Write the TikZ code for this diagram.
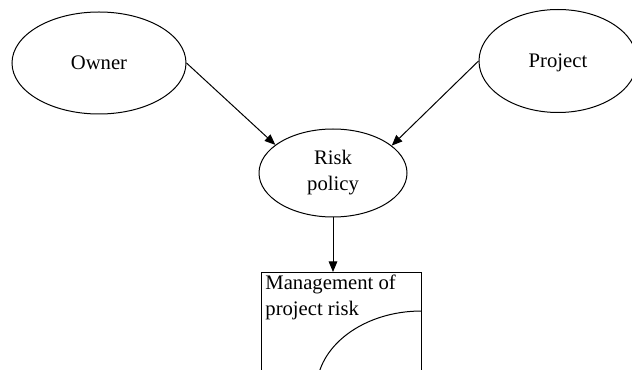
\documentclass[tikz,border=0pt]{standalone}
\usepackage{fontspec}
\setmainfont{Liberation Serif}
\usetikzlibrary{shapes.geometric,arrows.meta}

\tikzset{
    oval/.style={draw, ellipse, line width=0.75pt, inner sep=0pt},
    conn/.style={->, line width=0.75pt}
}

\begin{document}
\begin{tikzpicture}[x=0.75pt, y=-0.75pt, >={Triangle[length=8pt,width=6.5pt]},
    font=\fontsize{15.5}{19.5}\selectfont]
    \path[use as bounding box, clip] (0,0) rectangle (632,370);

    % Ellipses
    \node[oval, minimum width=130.5pt, minimum height=76.5pt, text height=10.5pt, text depth=0pt] (owner) at (99,63) {Owner};
    \node[oval, minimum width=118.5pt, minimum height=77.25pt, text height=10.5pt, text depth=0pt] (project) at (558,61) {Project};
    \node[oval, minimum width=111pt, minimum height=66pt, align=center] (risk) at (333,173) {Risk\\policy};

    % Box, cut at the bottom
    \node[draw, line width=0.75pt, minimum width=120pt, minimum height=112pt, anchor=north,
        label={[anchor=north west, align=left, inner xsep=3.5pt, inner ysep=2pt]north west:Management of\\project risk}]
        (mgmt) at (341,272) {};
    \draw[line width=0.75pt] ([yshift=-29.25pt]mgmt.north east)
        arc[start angle=90, end angle=180, x radius=78.75pt, y radius=59.25pt];

    % Arrows
    \draw[conn] (owner.east) -- (risk.154);
    \draw[conn] (project.west) -- (risk.25);
    \draw[conn] (risk.south) -- (risk.south |- mgmt.north);
\end{tikzpicture}
\end{document}
